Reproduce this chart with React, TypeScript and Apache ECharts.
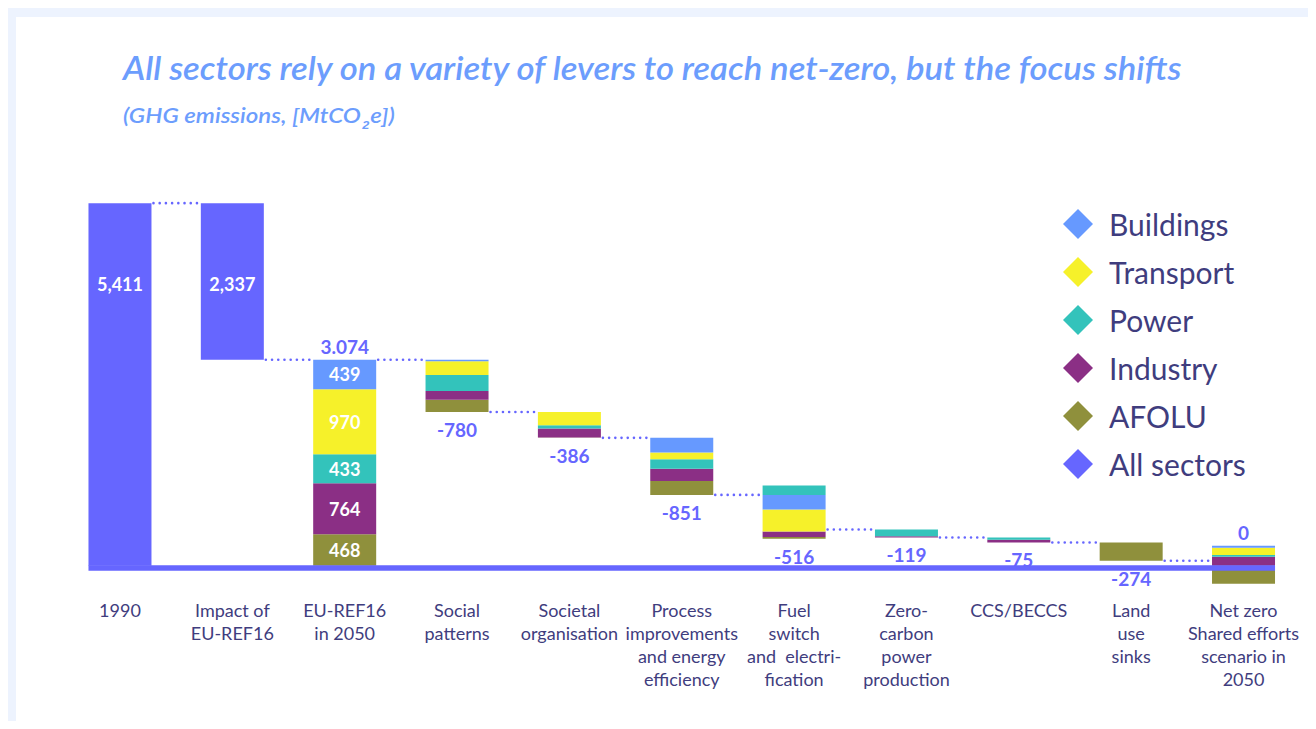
import React, { useEffect, useRef } from "react";
import * as echarts from "echarts";

// ---------- data ----------
const categories = [
  "1990",
  "Impact of\nEU-REF16",
  "EU-REF16\nin 2050",
  "Social\npatterns",
  "Societal\norganisation",
  "Process\nimprovements\nand energy\nefficiency",
  "Fuel\nswitch\nand  electri-\nfication",
  "Zero-\ncarbon\npower\nproduction",
  "CCS/BECCS",
  "Land\nuse\nsinks",
  "Net zero\nShared efforts\nscenario in\n2050",
];
const allSectors = [5411, -2337, 0, 0, 0, 0, 0, 0, 0, 0, 0];
const buildings = [0, 0, 439, -22, 0, -219, -220, 0, 0, 0, 30];
const transport = [0, 0, 970, -205, -197, -102, -325, 0, 0, 0, 108];
const power = [0, 0, 433, -240, -50, -141, 140, -102, -33, 0, 25];
const industry = [0, 0, 764, -131, -133, -180, -85, -17, -42, 0, 134];
const afolu = [0, 0, 468, -182, -6, -209, -26, 0, 0, -274, -268];
const isTotal = [true, false, true, false, false, false, false, false, false, false, true];
const valueLabels = ["5,411", "2,337", "3.074", "-780", "-386", "-851", "-516", "-119", "-75", "-274", "0"];
const legendNames = ["Buildings", "Transport", "Power", "Industry", "AFOLU", "All sectors"];
const titleText = "All sectors rely on a variety of levers to reach net-zero, but the focus shifts";

// ---------- style ----------
const FONT = "Lato, 'Open Sans', sans-serif";
const BLUE = "#6666ff";
const TEXT_DARK = "#3f3d7e";
const TITLE_COLOR = "#6c9dfd";
const BAR_W = 63;

const sectors = [
  { name: "AFOLU", values: afolu, color: "#8f903c" },
  { name: "Industry", values: industry, color: "#8b2f85" },
  { name: "Power", values: power, color: "#33c3bb" },
  { name: "Transport", values: transport, color: "#f6f12a" },
  { name: "Buildings", values: buildings, color: "#6699ff" },
];

function measure(text: string, font: string): number {
  const ctx = document.createElement("canvas").getContext("2d");
  if (!ctx) return 1;
  ctx.font = font;
  return ctx.measureText(text).width;
}

function buildOption() {
  const n = categories.length;
  const base: number[] = [];
  const levelAfter: number[] = [];
  let level = 0;
  for (let i = 0; i < n; i++) {
    const vals = [allSectors[i], ...sectors.map((s) => s.values[i])];
    if (isTotal[i]) {
      base.push(0);
      level = vals.reduce((a, b) => a + b, 0);
    } else {
      const neg = vals.filter((v) => v < 0).reduce((a, b) => a + b, 0);
      const pos = vals.filter((v) => v > 0).reduce((a, b) => a + b, 0);
      base.push(level + neg);
      level = level + neg + pos;
    }
    levelAfter.push(level);
  }

  const labelBase = { fontFamily: FONT, fontWeight: "bold" as const, fontSize: 19 };

  const series: any[] = [];
  series.push({
    type: "bar",
    name: "base",
    stack: "wf",
    barWidth: BAR_W,
    silent: true,
    clip: false,
    itemStyle: { color: "rgba(0,0,0,0)" },
    data: base.map((v, i) => {
      const lever = !isTotal[i] && allSectors[i] === 0;
      return {
        value: v,
        label: lever
          ? { show: true, position: "insideTop", distance: 8, formatter: valueLabels[i], color: BLUE, ...labelBase }
          : { show: false },
      };
    }),
  });
  sectors.forEach((s) => {
    series.push({
      type: "bar",
      name: s.name,
      stack: "wf",
      barWidth: BAR_W,
      clip: false,
      itemStyle: { color: s.color },
      data: s.values.map((v, i) => {
        const value = isTotal[i] ? v : v < 0 ? -v : 0;
        const showIn = isTotal[i] && Math.abs(v) >= 300;
        return {
          value,
          label: showIn
            ? { show: true, position: "inside", formatter: String(v), color: "#ffffff", ...labelBase, fontSize: 18 }
            : { show: false },
        };
      }),
    });
  });
  sectors.forEach((s) => {
    series.push({
      type: "bar",
      name: s.name,
      stack: "wf",
      barWidth: BAR_W,
      clip: false,
      itemStyle: { color: s.color },
      data: s.values.map((v, i) => (isTotal[i] ? 0 : v > 0 ? v : 0)),
    });
  });
  series.push({
    type: "bar",
    name: "All sectors",
    stack: "wf",
    barWidth: BAR_W,
    clip: false,
    itemStyle: { color: BLUE },
    data: allSectors.map((v, i) => {
      const value = isTotal[i] ? v : Math.abs(v);
      let label: any = { show: false };
      if (v !== 0) {
        label = { show: true, position: ["50%", 81], align: "center", verticalAlign: "middle", formatter: valueLabels[i], color: "#ffffff", ...labelBase, fontSize: 18 };
      } else if (isTotal[i]) {
        label = { show: true, position: "top", distance: 4, formatter: valueLabels[i], color: BLUE, ...labelBase };
      }
      return { value, label };
    }),
  });
  // dotted connectors
  series.push({
    type: "custom",
    name: "connectors",
    silent: true,
    clip: false,
    z: 4,
    data: levelAfter.slice(0, n - 1).map((v, i) => [i, v]),
    renderItem: (params: any, api: any) => {
      const i = api.value(0);
      const lv = api.value(1);
      const p1 = api.coord([i, lv]);
      const p2 = api.coord([i + 1, lv]);
      return {
        type: "line",
        shape: { x1: p1[0] + BAR_W / 2 + 2, y1: p1[1], x2: p2[0] - BAR_W / 2 - 2, y2: p2[1] },
        style: { stroke: BLUE, lineWidth: 2.6, lineDash: [0.01, 6.2], lineCap: "round" },
      };
    },
  });
  // base line
  series.push({
    type: "custom",
    name: "baseline",
    silent: true,
    clip: false,
    z: 6,
    data: [[0, 0]],
    renderItem: (params: any, api: any) => {
      const p0 = api.coord([0, 0]);
      const p1 = api.coord([n - 1, 0]);
      return {
        type: "rect",
        shape: { x: p0[0] - BAR_W / 2, y: p0[1] - 0.5, width: p1[0] - p0[0] + BAR_W, height: 5.5 },
        style: { fill: BLUE },
      };
    },
  });

  const titleFont = "italic 600 32px Lato";
  const titleScale = 1062 / measure(titleText, titleFont);
  const subFont = "italic 600 21px Lato";
  const subScale = 272 / (measure("(GHG emissions, [MtCOe])", subFont) + measure("2", "italic 600 11px Lato") + 2);

  return {
    animation: false,
    backgroundColor: "#ffffff",
    grid: { left: 47.8, right: 8.3, top: 146.7, bottom: 155.3, outerBoundsMode: "none", containLabel: false },
    xAxis: {
      type: "category",
      data: categories,
      axisLine: { show: false },
      axisTick: { show: false },
      axisLabel: {
        interval: 0,
        margin: 33,
        fontFamily: FONT,
        fontSize: 18,
        lineHeight: 23,
        color: TEXT_DARK,
      },
    },
    yAxis: { type: "value", min: 0, max: 6000, show: false },
    legend: {
      data: legendNames,
      orient: "vertical",
      left: 1042,
      top: 187,
      itemWidth: 30,
      itemHeight: 30,
      itemGap: 18,
      icon: "diamond",
      selectedMode: false,
      textStyle: { fontFamily: FONT, fontSize: 30, color: TEXT_DARK, padding: [0, 0, 0, 11] },
    },
    graphic: [
      {
        type: "text",
        x: 107,
        y: 51,
        scaleX: titleScale,
        style: {
          text: titleText,
          fontFamily: "Lato",
          fontStyle: "italic",
          fontWeight: 600,
          fontSize: 32,
          fill: TITLE_COLOR,
          verticalAlign: "middle",
        },
      },
      {
        type: "text",
        x: 107,
        y: 98,
        scaleX: subScale,
        style: {
          text: "(GHG emissions, [MtCO{s|2}e])",
          fontFamily: "Lato",
          fontStyle: "italic",
          fontWeight: 600,
          fontSize: 21,
          lineHeight: 32,
          fill: TITLE_COLOR,
          verticalAlign: "middle",
          rich: {
            s: { fontSize: 11, lineHeight: 12, verticalAlign: "bottom", fill: TITLE_COLOR, fontStyle: "italic", fontWeight: 600, padding: [0, 1, 0, 1] },
          },
        },
      },
    ],
    series,
  };
}

export default function App() {
  const ref = useRef<HTMLDivElement>(null);
  useEffect(() => {
    if (!ref.current) return;
    const chart = echarts.init(ref.current, undefined, { renderer: "svg" });
    chart.setOption(buildOption() as any);
    return () => chart.dispose();
  }, []);
  return (
    <div
      style={{
        width: 1300,
        height: 713,
        background: "#edf3fe",
        padding: "9px 0 0 8px",
        boxSizing: "border-box",
      }}
    >
      <div ref={ref} style={{ width: 1292, height: 704, background: "#ffffff" }} />
    </div>
  );
}
